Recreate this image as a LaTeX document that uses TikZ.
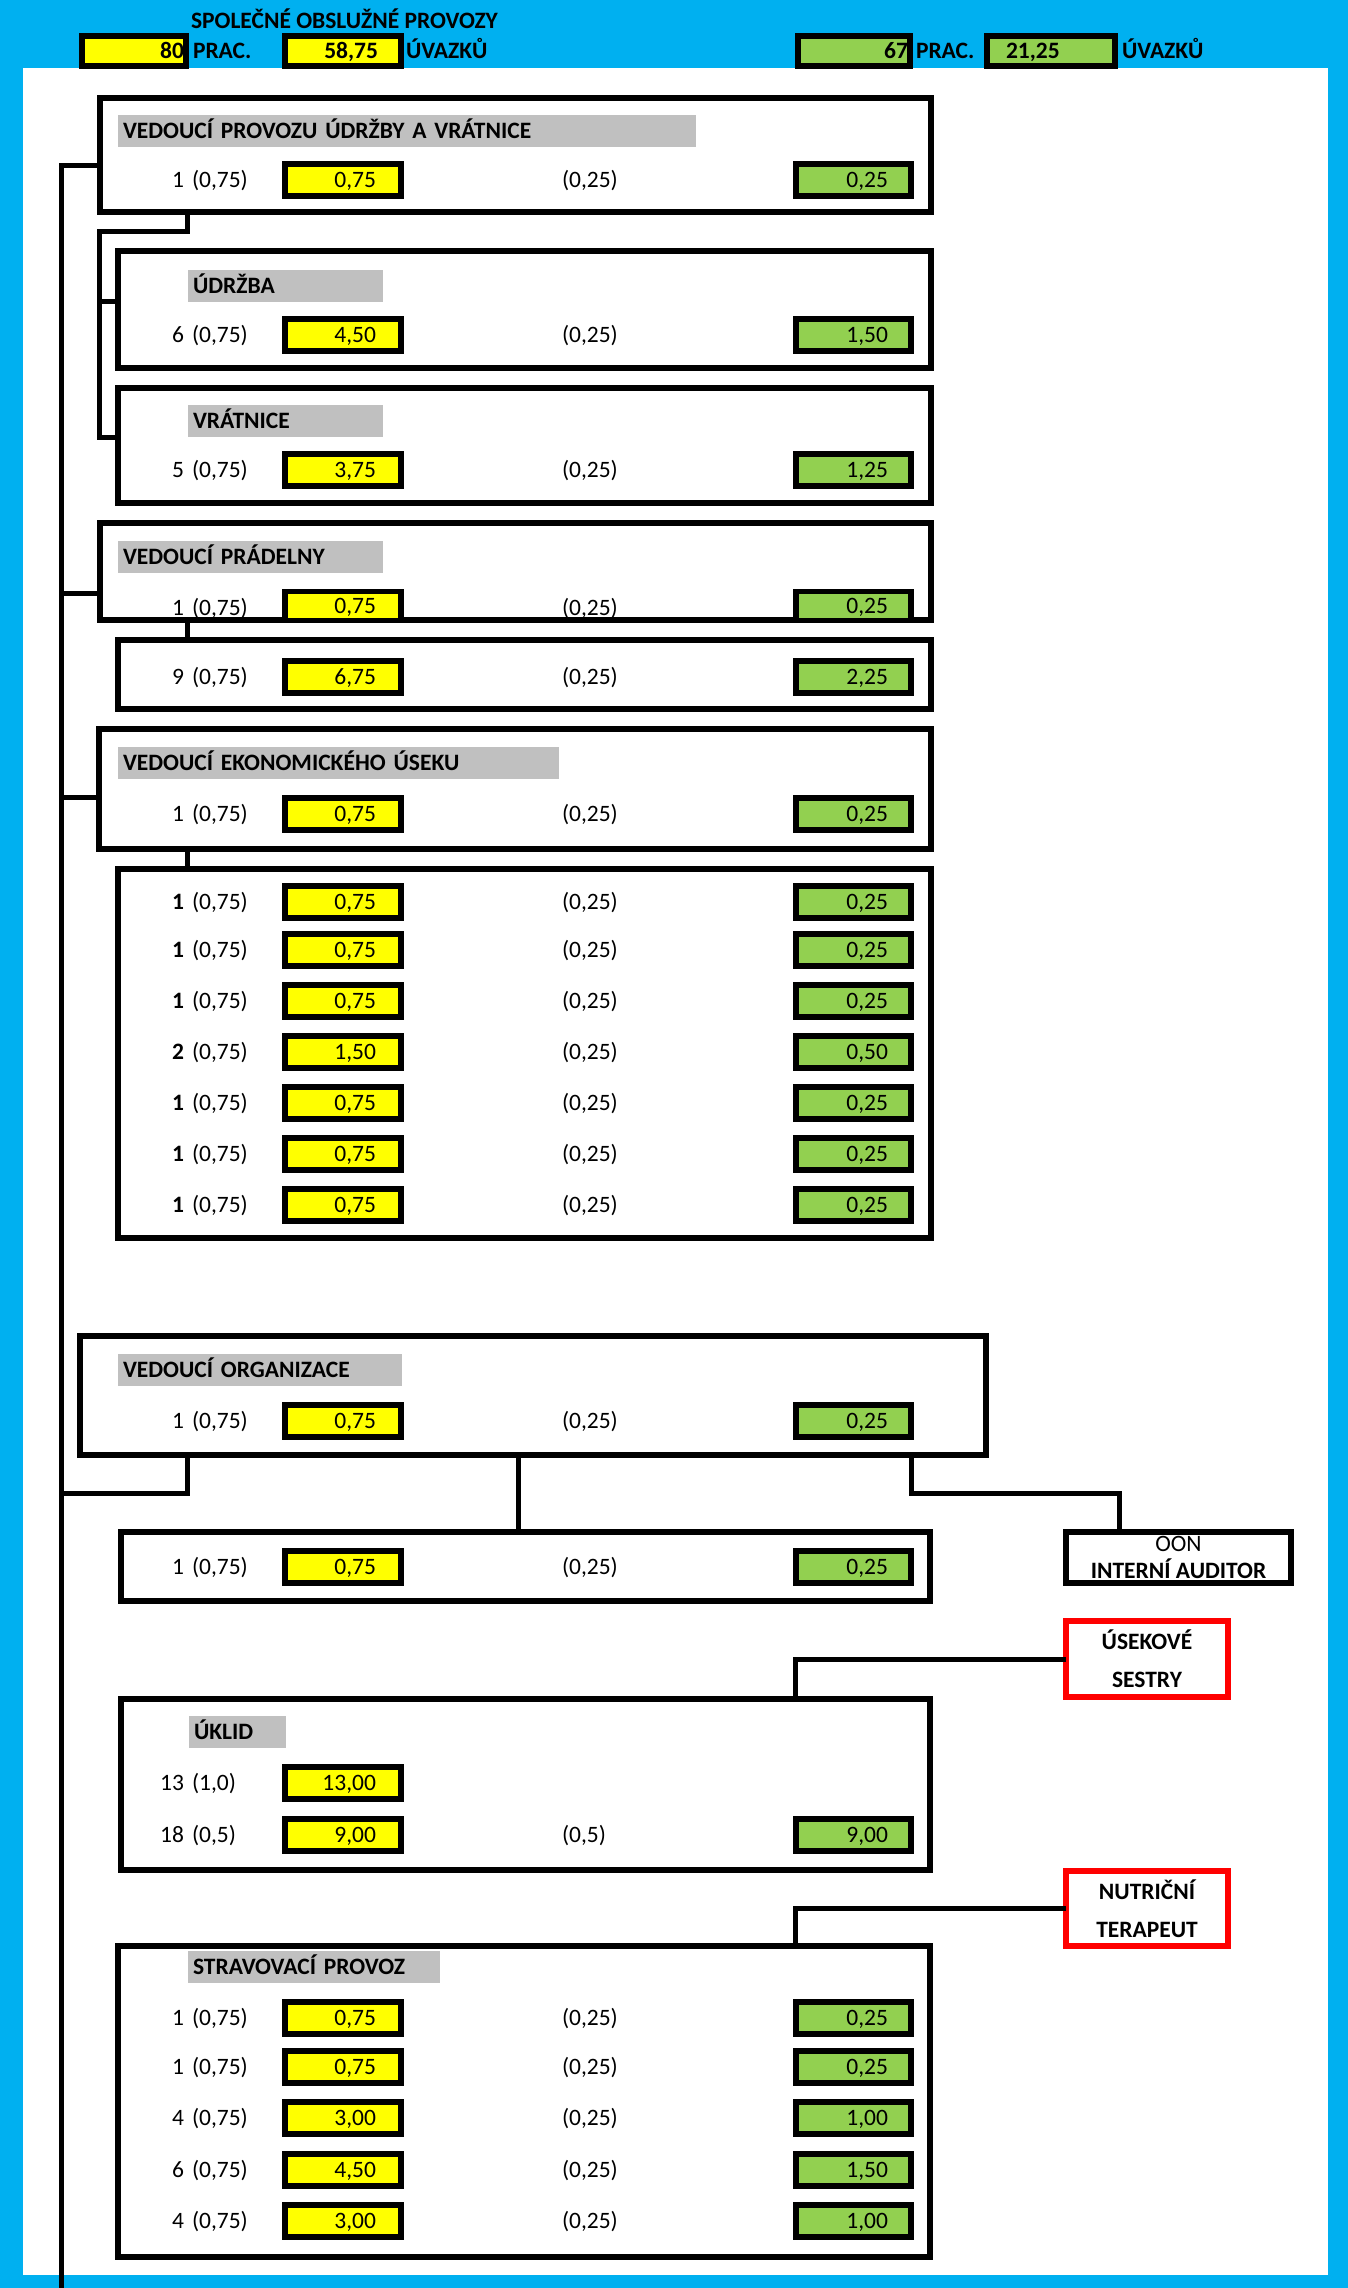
\documentclass[tikz,border=0pt]{standalone}
\usepackage{fontspec}
\setmainfont{Carlito}
\definecolor{frameblue}{HTML}{00B0F0}
\definecolor{yel}{HTML}{FFFF00}
\definecolor{grn}{HTML}{92D050}
\definecolor{ttlgray}{HTML}{C0C0C0}
\definecolor{redline}{HTML}{FF0000}
\newcommand{\txtsize}{\fontsize{23.5}{28}\selectfont}
\tikzset{
  panel/.style={draw, line width=5.5pt, fill=white, inner sep=0pt, outer sep=0pt, anchor=north west},
  valbox/.style={draw, line width=5.5pt, inner sep=0pt, outer sep=0pt, minimum height=32pt, text height=15pt, text depth=0pt},
  yelbox/.style={valbox, fill=yel, minimum width=116pt, text width=66pt, align=right},
  grnbox/.style={valbox, fill=grn, minimum width=115pt, text width=69pt, align=right},
  lbl/.style={inner sep=0pt, outer sep=0pt, text height=15pt, text depth=0pt},
  blbl/.style={lbl, font=\txtsize\bfseries},
  ttl/.style={fill=ttlgray, inner ysep=0pt, inner xsep=5pt, outer sep=0pt, minimum height=32pt, text height=15pt, text depth=0pt, align=left, anchor=west, font=\txtsize\bfseries},
  conn/.style={draw, line width=5pt, line join=miter},
  redbox/.style={draw=redline, line width=6pt, fill=white, inner sep=0pt, outer sep=0pt, anchor=north west, align=center, font=\fontsize{23.5}{38}\selectfont\bfseries},
}
\newcommand{\orgrow}[7]{%
  \node[lbl, anchor=east] (#1c) at (184,#2) {#3};
  \node[lbl, anchor=west] (#1p) at (192,#2) {#4};
  \node[yelbox] (#1y) at (343,#2) {#5};
  \node[lbl, anchor=west] (#1q) at (562,#2) {#6};
  \node[grnbox] (#1g) at (853.5,#2) {#7};
}
\begin{document}
\begin{tikzpicture}[x=1pt, y=-1pt, every node/.style={font=\txtsize}]
\useasboundingbox (0,0) rectangle (1348,2288);
\fill[frameblue] (0,0) rectangle (1348,2288);
\fill[white] (23,68) rectangle (1328,2275);

% header
\node[blbl, anchor=west] (title) at (191,21) {SPOLEČNÉ OBSLUŽNÉ PROVOZY};
\node[valbox, fill=yel, minimum width=104pt, minimum height=30pt, text width=100pt, align=right, font=\txtsize\bfseries] (hy1) at (134,51) {80};
\node[blbl, anchor=west] (hp1) at (193,51) {PRAC.};
\node[valbox, fill=yel, minimum width=116pt, minimum height=30pt, text width=70pt, align=right, font=\txtsize\bfseries] (hy2) at (343,51) {58,75};
\node[blbl, anchor=west] (hu1) at (406,51) {ÚVAZKŮ};
\node[valbox, fill=grn, minimum width=112pt, minimum height=30pt, text width=108pt, align=right, font=\txtsize\bfseries] (hg1) at (854,51) {67};
\node[blbl, anchor=west] (hp2) at (916,51) {PRAC.};
\node[valbox, fill=grn, minimum width=128pt, minimum height=30pt, text width=90pt, align=left, font=\txtsize\bfseries] (hg2) at (1051,51) {21,25};
\node[blbl, anchor=west] (hu2) at (1122,51) {ÚVAZKŮ};

% panels
\node[panel, minimum width=831pt, minimum height=114pt] (b1) at (100,98) {};
\node[panel, minimum width=813pt, minimum height=117pt] (udr) at (118,251) {};
\node[panel, minimum width=813pt, minimum height=115pt] (vrat) at (118,388) {};
\node[panel, minimum width=831pt, minimum height=97pt] (prad) at (100,523) {};
\node[panel, minimum width=813pt, minimum height=69pt] (pradsub) at (118,640) {};
\node[panel, minimum width=832pt, minimum height=120pt] (econ) at (99,729) {};
\node[panel, minimum width=813pt, minimum height=369pt] (econsub) at (118,869) {};
\node[panel, minimum width=906pt, minimum height=119pt] (org) at (80,1336) {};
\node[panel, minimum width=809pt, minimum height=69pt] (orgsub) at (121,1532) {};
\node[panel, minimum width=225pt, minimum height=51pt, align=center, font=\fontsize{23.5}{25}\selectfont] (aud) at (1066,1532) {\raisebox{4pt}{OON}\\[-2pt]\textbf{INTERNÍ AUDITOR}};
\draw[line width=5.5pt] (aud.north west) -- (aud.north east);
\node[redbox, minimum width=162pt, minimum height=76pt] (usek) at (1066,1621) {ÚSEKOVÉ\\SESTRY};
\node[panel, minimum width=809pt, minimum height=171pt] (uklid) at (121,1699) {};
\node[redbox, minimum width=162pt, minimum height=75pt] (nutr) at (1066,1871) {NUTRIČNÍ\\TERAPEUT};
\node[panel, minimum width=812pt, minimum height=311pt] (strav) at (118,1946) {};

% titles
\node[ttl, text width=568pt] (t1) at (118,131) {VEDOUCÍ PROVOZU ÚDRŽBY A VRÁTNICE};
\node[ttl, text width=185pt] (t2) at (188,286) {ÚDRŽBA};
\node[ttl, text width=185pt] (t3) at (188,421) {VRÁTNICE};
\node[ttl, text width=255pt] (t4) at (118,557) {VEDOUCÍ PRÁDELNY};
\node[ttl, text width=431pt] (t5) at (118,763) {VEDOUCÍ EKONOMICKÉHO ÚSEKU};
\node[ttl, text width=274pt] (t6) at (118,1370) {VEDOUCÍ ORGANIZACE};
\node[ttl, text width=87pt] (t7) at (189,1732) {ÚKLID};
\node[ttl, text width=242pt] (t8) at (188,1967) {STRAVOVACÍ PROVOZ};

% rows
\orgrow{ra}{180}{1}{(0,75)}{0,75}{(0,25)}{0,25}
\orgrow{rb}{335}{6}{(0,75)}{4,50}{(0,25)}{1,50}
\orgrow{rc}{470}{5}{(0,75)}{3,75}{(0,25)}{1,25}
% pradelna row (boxes cut by panel bottom)
\node[lbl, anchor=east] (rdc) at (184,608) {1};
\node[lbl, anchor=west] (rdp) at (192,608) {(0,75)};
\node[yelbox, minimum height=29pt] (rdy) at (343,606) {0,75};
\node[lbl, anchor=west] (rdq) at (562,608) {(0,25)};
\node[grnbox, minimum height=29pt] (rdg) at (853.5,606) {0,25};
\orgrow{re}{677}{9}{(0,75)}{6,75}{(0,25)}{2,25}
\orgrow{rf}{814}{1}{(0,75)}{0,75}{(0,25)}{0,25}
\orgrow{rg1}{902}{\textbf{1}}{(0,75)}{0,75}{(0,25)}{0,25}
\orgrow{rg2}{950}{\textbf{1}}{(0,75)}{0,75}{(0,25)}{0,25}
\orgrow{rg3}{1001}{\textbf{1}}{(0,75)}{0,75}{(0,25)}{0,25}
\orgrow{rg4}{1052}{\textbf{2}}{(0,75)}{1,50}{(0,25)}{0,50}
\orgrow{rg5}{1103}{\textbf{1}}{(0,75)}{0,75}{(0,25)}{0,25}
\orgrow{rg6}{1154}{\textbf{1}}{(0,75)}{0,75}{(0,25)}{0,25}
\orgrow{rg7}{1205}{\textbf{1}}{(0,75)}{0,75}{(0,25)}{0,25}
\orgrow{rh}{1421}{1}{(0,75)}{0,75}{(0,25)}{0,25}
\orgrow{ri}{1567}{1}{(0,75)}{0,75}{(0,25)}{0,25}
% uklid
\node[lbl, anchor=east] (rj1c) at (184,1783) {13};
\node[lbl, anchor=west] (rj1p) at (192,1783) {(1,0)};
\node[yelbox] (rj1y) at (343,1783) {13,00};
\orgrow{rj2}{1835}{18}{(0,5)}{9,00}{(0,5)}{9,00}
% stravovaci
\orgrow{rk1}{2018}{1}{(0,75)}{0,75}{(0,25)}{0,25}
\orgrow{rk2}{2067}{1}{(0,75)}{0,75}{(0,25)}{0,25}
\orgrow{rk3}{2118}{4}{(0,75)}{3,00}{(0,25)}{1,00}
\orgrow{rk4}{2170}{6}{(0,75)}{4,50}{(0,25)}{1,50}
\orgrow{rk5}{2221}{4}{(0,75)}{3,00}{(0,25)}{1,00}

% connectors
\coordinate (tkbot) at (61,2288);
\draw[conn] (b1.west |- 0,165) -| (tkbot);
\draw[conn] (187,0 |- b1.south) |- (99.5,231.5) |- (vrat.west |- 0,437);
\draw[conn] (99.5,301) -- (udr.west |- 0,301);
\draw[conn] (prad.west |- 0,593) -- (tkbot |- 0,593);
\draw[conn] (187,0 |- prad.south) -- (187,0 |- pradsub.north);
\draw[conn] (econ.west |- 0,797) -- (tkbot |- 0,797);
\draw[conn] (187,0 |- econ.south) -- (187,0 |- econsub.north);
\draw[conn] (187,0 |- org.south) |- (tkbot |- 0,1493.5);
\draw[conn] (518,0 |- org.south) -- (518,0 |- orgsub.north);
\draw[conn] (911,0 |- org.south) |- (1119,1493.5) -- (1119,0 |- aud.north);
\draw[conn] (usek.west) -| (795,0 |- uklid.north);
\draw[conn] (nutr.west) -| (795,0 |- strav.north);
\end{tikzpicture}
\end{document}
